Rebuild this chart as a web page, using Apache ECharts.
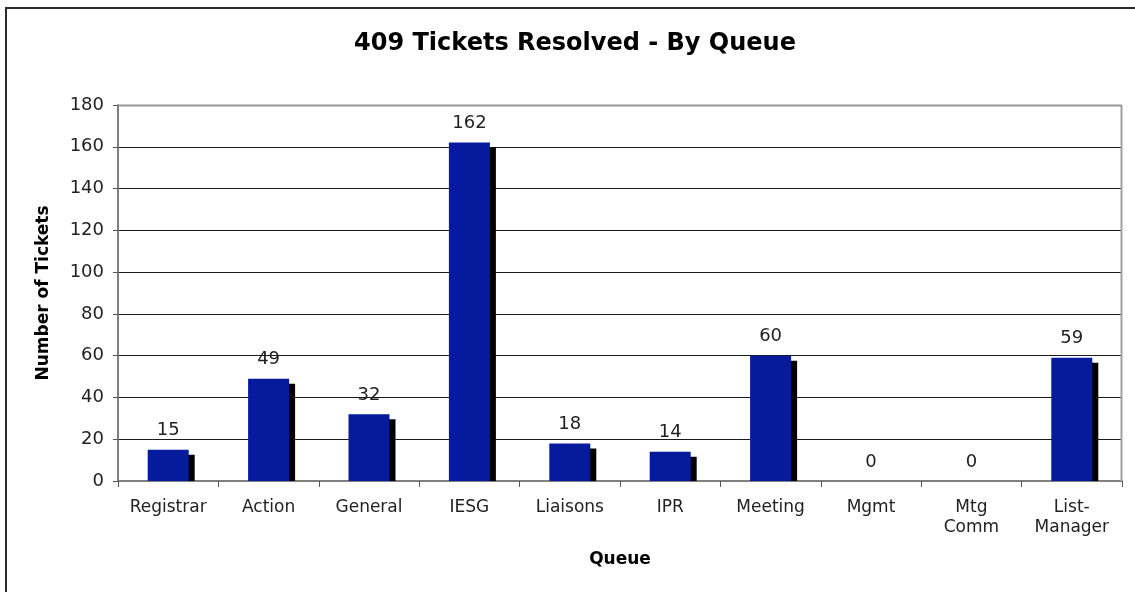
<!DOCTYPE html>
<html>
<head>
<meta charset="utf-8">
<script src="https://cdn.jsdelivr.net/npm/echarts@6/dist/echarts.min.js"></script>
<style>
html,body{margin:0;padding:0;background:#fff;}
#chart{width:1135px;height:592px;}
</style>
</head>
<body>
<div id="chart"></div>
<script>
const titleText = '409 Tickets Resolved - By Queue';
const categories = ['Registrar', 'Action', 'General', 'IESG', 'Liaisons', 'IPR', 'Meeting', 'Mgmt', 'Mtg\nComm', 'List-\nManager'];
const ticketCounts = [15, 49, 32, 162, 18, 14, 60, 0, 0, 59];
const yTicks = [0, 20, 40, 60, 80, 100, 120, 140, 160, 180];

const chart = echarts.init(document.getElementById('chart'), null, {renderer: 'canvas'});
const FONT = '"DejaVu Sans", "Liberation Sans", sans-serif';
const BAR_W = 41;

const option = {
  animation: false,
  backgroundColor: '#fff',
  title: {
    text: titleText,
    left: 570, top: 27, textAlign: 'center',
    textStyle: {fontFamily: FONT, fontWeight: 'bold', fontSize: 24, color: '#000'}
  },
  graphic: [{
    type: 'rect', z: 100, silent: true,
    shape: {x: 6, y: 8, width: 1200, height: 700},
    style: {fill: 'none', stroke: '#2a2a2a', lineWidth: 2}
  }, {
    type: 'line', z: 100, silent: true,
    shape: {x1: 1121.5, y1: 105, x2: 1121.5, y2: 481},
    style: {stroke: '#a0a0a0', lineWidth: 2}
  }, {
    type: 'line', z: 100, silent: true,
    shape: {x1: 118, y1: 105.5, x2: 1122, y2: 105.5},
    style: {stroke: '#999', lineWidth: 2}
  }],
  grid: {left: 118, right: 13, top: 105, bottom: 111, containLabel: false},
  xAxis: {
    type: 'category',
    data: categories,
    name: 'Queue',
    nameLocation: 'middle',
    nameGap: 70,
    nameTextStyle: {fontFamily: FONT, fontWeight: 'bold', fontSize: 17, color: '#000'},
    axisLine: {lineStyle: {color: '#808080', width: 2}},
    axisTick: {show: true, alignWithLabel: false, length: 6, lineStyle: {color: '#555', width: 1}},
    axisLabel: {fontFamily: FONT, fontSize: 17, color: '#222', margin: 17, lineHeight: 20, interval: 0}
  },
  yAxis: {
    type: 'value',
    min: 0, max: 180, interval: 20,
    name: 'Number of Tickets',
    nameLocation: 'middle',
    nameGap: 66,
    nameRotate: 90,
    nameTextStyle: {fontFamily: FONT, fontWeight: 'bold', fontSize: 17, color: '#000'},
    axisLine: {show: true, lineStyle: {color: '#808080', width: 2}},
    axisTick: {show: true, length: 5, lineStyle: {color: '#555', width: 1}},
    axisLabel: {fontFamily: FONT, fontSize: 18, color: '#222', margin: 14,
      formatter: v => yTicks.includes(v) ? String(v) : ''},
    splitLine: {show: true, lineStyle: {color: '#1a1a1a', width: 1}}
  },
  series: [{
    type: 'custom',
    name: 'shadow',
    z: 1,
    data: ticketCounts.map((v, i) => [i, v]),
    renderItem: function (params, api) {
      const top = api.coord([api.value(0), api.value(1)]);
      const base = api.coord([api.value(0), 0]);
      const h = base[1] - top[1] - 5;
      if (h <= 0) return null;
      return {
        type: 'rect',
        shape: {x: top[0] - BAR_W / 2 + 6, y: top[1] + 5, width: BAR_W, height: h},
        style: {fill: '#000'}
      };
    }
  }, {
    type: 'bar',
    name: 'Tickets',
    z: 3,
    barWidth: BAR_W,
    data: ticketCounts,
    itemStyle: {color: '#061a9e'},
    label: {
      show: true, position: 'top', distance: 10,
      fontFamily: FONT, fontSize: 18, color: '#222'
    }
  }]
};
chart.setOption(option);
</script>
</body>
</html>
